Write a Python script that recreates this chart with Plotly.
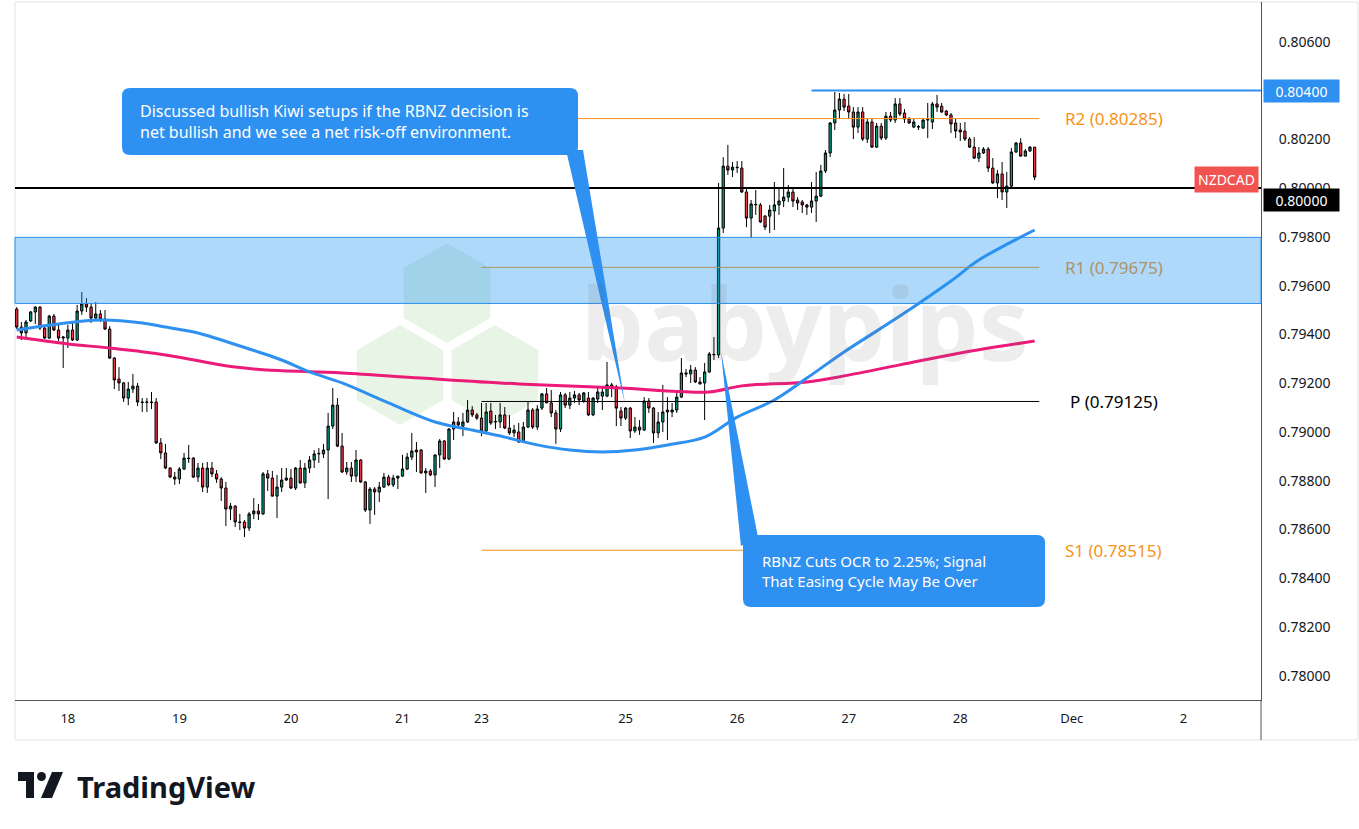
import plotly.graph_objects as go

# ── Data: NZDCAD hourly candles (Nov 17 - Nov 28) ─────────────────────────────

OPEN = [
    0.79504, 0.79430, 0.79406, 0.79455, 0.79492, 0.79512, 0.79426, 0.79385, 0.79475, 0.79418,
    0.79385, 0.79385, 0.79418, 0.79377, 0.79496, 0.79525, 0.79512, 0.79467, 0.79484, 0.79463,
    0.79422, 0.79303, 0.79217, 0.79201, 0.79139, 0.79176, 0.79188, 0.79123, 0.79121, 0.79123,
    0.79123, 0.78955, 0.78914, 0.78852, 0.78815, 0.78807, 0.78848, 0.78893, 0.78893, 0.78815,
    0.78852, 0.78774, 0.78852, 0.78828, 0.78807, 0.78770, 0.78684, 0.78696, 0.78631, 0.78631,
    0.78606, 0.78664, 0.78676, 0.78664, 0.78828, 0.78811, 0.78737, 0.78774, 0.78803, 0.78811,
    0.78770, 0.78852, 0.78791, 0.78852, 0.78885, 0.78910, 0.78910, 0.78926, 0.79024, 0.79110,
    0.78942, 0.78836, 0.78852, 0.78819, 0.78885, 0.78795, 0.78680, 0.78766, 0.78754, 0.78774,
    0.78815, 0.78783, 0.78811, 0.78819, 0.78848, 0.78897, 0.78926, 0.78926, 0.78840, 0.78840,
    0.78824, 0.78906, 0.78963, 0.78889, 0.79012, 0.79041, 0.79024, 0.79041, 0.79090, 0.79070,
    0.79057, 0.79004, 0.79086, 0.79041, 0.79041, 0.79070, 0.79016, 0.78996, 0.79000, 0.78959,
    0.79020, 0.79090, 0.79020, 0.79098, 0.79156, 0.79119, 0.79078, 0.79012, 0.79152, 0.79110,
    0.79139, 0.79152, 0.79127, 0.79139, 0.79070, 0.79135, 0.79147, 0.79147, 0.79193, 0.79184,
    0.79086, 0.79057, 0.79098, 0.79004, 0.79020, 0.79008, 0.79127, 0.79098, 0.78996, 0.79041,
    0.79090, 0.79082, 0.79090, 0.79143, 0.79242, 0.79238, 0.79254, 0.79205, 0.79201, 0.79246,
    0.79316, 0.79316, 0.79836, 0.80090, 0.80074, 0.80086, 0.80082, 0.79984, 0.79877, 0.79931,
    0.79931, 0.79885, 0.79885, 0.79906, 0.79931, 0.79947, 0.79963, 0.79984, 0.79951, 0.79943,
    0.79931, 0.79922, 0.79947, 0.79967, 0.80070, 0.80144, 0.80267, 0.80320, 0.80365, 0.80336,
    0.80312, 0.80250, 0.80312, 0.80201, 0.80271, 0.80168, 0.80254, 0.80205, 0.80295, 0.80279,
    0.80345, 0.80308, 0.80283, 0.80250, 0.80250, 0.80246, 0.80279, 0.80271, 0.80345, 0.80336,
    0.80316, 0.80300, 0.80267, 0.80238, 0.80234, 0.80201, 0.80168, 0.80123, 0.80144, 0.80160,
    0.80082, 0.80021, 0.80058, 0.79984, 0.80008, 0.80148, 0.80185, 0.80131, 0.80152, 0.80168,
]
HIGH = [
    0.79512, 0.79451, 0.79459, 0.79496, 0.79516, 0.79516, 0.79434, 0.79480, 0.79484, 0.79439,
    0.79393, 0.79439, 0.79451, 0.79521, 0.79574, 0.79549, 0.79529, 0.79533, 0.79500, 0.79500,
    0.79434, 0.79307, 0.79266, 0.79205, 0.79205, 0.79238, 0.79201, 0.79139, 0.79139, 0.79164,
    0.79139, 0.78975, 0.78951, 0.78856, 0.78836, 0.78856, 0.78914, 0.78947, 0.78897, 0.78873,
    0.78873, 0.78877, 0.78877, 0.78844, 0.78815, 0.78795, 0.78709, 0.78700, 0.78664, 0.78639,
    0.78672, 0.78729, 0.78705, 0.78836, 0.78844, 0.78840, 0.78824, 0.78852, 0.78852, 0.78848,
    0.78856, 0.78885, 0.78873, 0.78901, 0.78926, 0.78934, 0.78951, 0.79078, 0.79180, 0.79139,
    0.78996, 0.78877, 0.78877, 0.78926, 0.78889, 0.78799, 0.78774, 0.78774, 0.78795, 0.78832,
    0.78824, 0.78824, 0.78819, 0.78906, 0.78914, 0.78996, 0.78959, 0.78930, 0.78852, 0.78848,
    0.78906, 0.78971, 0.78967, 0.79016, 0.79082, 0.79061, 0.79078, 0.79131, 0.79106, 0.79078,
    0.79119, 0.79119, 0.79119, 0.79070, 0.79119, 0.79102, 0.79070, 0.79029, 0.79037, 0.79041,
    0.79123, 0.79098, 0.79110, 0.79160, 0.79180, 0.79172, 0.79090, 0.79164, 0.79160, 0.79164,
    0.79168, 0.79160, 0.79164, 0.79164, 0.79143, 0.79184, 0.79184, 0.79287, 0.79201, 0.79193,
    0.79102, 0.79102, 0.79102, 0.79061, 0.79049, 0.79143, 0.79139, 0.79102, 0.79082, 0.79193,
    0.79143, 0.79119, 0.79172, 0.79303, 0.79258, 0.79275, 0.79266, 0.79225, 0.79283, 0.79328,
    0.79389, 0.80021, 0.80127, 0.80177, 0.80107, 0.80111, 0.80111, 0.80000, 0.79951, 0.79992,
    0.79939, 0.79890, 0.79931, 0.80025, 0.80000, 0.80082, 0.80013, 0.80000, 0.79963, 0.79951,
    0.79935, 0.80025, 0.80066, 0.80095, 0.80156, 0.80271, 0.80394, 0.80390, 0.80386, 0.80386,
    0.80332, 0.80332, 0.80332, 0.80283, 0.80287, 0.80267, 0.80267, 0.80312, 0.80312, 0.80369,
    0.80369, 0.80324, 0.80291, 0.80283, 0.80259, 0.80287, 0.80349, 0.80353, 0.80382, 0.80349,
    0.80320, 0.80308, 0.80287, 0.80267, 0.80271, 0.80209, 0.80209, 0.80168, 0.80168, 0.80168,
    0.80123, 0.80074, 0.80107, 0.80066, 0.80164, 0.80189, 0.80205, 0.80160, 0.80172, 0.80168,
]
LOW = [
    0.79422, 0.79377, 0.79381, 0.79451, 0.79443, 0.79418, 0.79381, 0.79381, 0.79414, 0.79373,
    0.79262, 0.79344, 0.79373, 0.79373, 0.79480, 0.79492, 0.79447, 0.79463, 0.79451, 0.79418,
    0.79300, 0.79176, 0.79168, 0.79123, 0.79110, 0.79160, 0.79106, 0.79082, 0.79082, 0.79094,
    0.78951, 0.78889, 0.78848, 0.78811, 0.78783, 0.78787, 0.78844, 0.78873, 0.78811, 0.78795,
    0.78754, 0.78750, 0.78815, 0.78791, 0.78717, 0.78614, 0.78639, 0.78610, 0.78598, 0.78569,
    0.78594, 0.78643, 0.78639, 0.78660, 0.78758, 0.78735, 0.78647, 0.78754, 0.78799, 0.78766,
    0.78762, 0.78788, 0.78770, 0.78832, 0.78852, 0.78873, 0.78893, 0.78725, 0.79012, 0.78938,
    0.78832, 0.78824, 0.78795, 0.78795, 0.78791, 0.78672, 0.78623, 0.78660, 0.78713, 0.78770,
    0.78778, 0.78774, 0.78766, 0.78815, 0.78844, 0.78885, 0.78836, 0.78828, 0.78750, 0.78819,
    0.78774, 0.78852, 0.78885, 0.78885, 0.78967, 0.79012, 0.78983, 0.79037, 0.79061, 0.79049,
    0.78983, 0.79000, 0.79029, 0.79012, 0.79016, 0.79012, 0.78988, 0.78979, 0.78955, 0.78955,
    0.79016, 0.79012, 0.79008, 0.79090, 0.79119, 0.79061, 0.78951, 0.79000, 0.79098, 0.79094,
    0.79119, 0.79110, 0.79119, 0.79065, 0.79065, 0.79119, 0.79090, 0.79143, 0.79143, 0.79024,
    0.79024, 0.79049, 0.78975, 0.78996, 0.78988, 0.79004, 0.79078, 0.78955, 0.78975, 0.79000,
    0.78967, 0.79061, 0.79078, 0.79139, 0.79225, 0.79201, 0.79201, 0.79195, 0.79049, 0.79242,
    0.79295, 0.79303, 0.79816, 0.80054, 0.80045, 0.80062, 0.79980, 0.79840, 0.79795, 0.79890,
    0.79857, 0.79828, 0.79816, 0.79828, 0.79890, 0.79922, 0.79943, 0.79922, 0.79910, 0.79898,
    0.79890, 0.79898, 0.79861, 0.79963, 0.80062, 0.80127, 0.80238, 0.80283, 0.80316, 0.80283,
    0.80201, 0.80226, 0.80193, 0.80185, 0.80165, 0.80165, 0.80197, 0.80197, 0.80271, 0.80267,
    0.80295, 0.80267, 0.80263, 0.80246, 0.80238, 0.80242, 0.80205, 0.80242, 0.80312, 0.80308,
    0.80295, 0.80226, 0.80205, 0.80193, 0.80193, 0.80164, 0.80119, 0.80107, 0.80140, 0.80066,
    0.80017, 0.79959, 0.79951, 0.79918, 0.80004, 0.80144, 0.80131, 0.80131, 0.80148, 0.80033,
]
CLOSE = [
    0.79430, 0.79406, 0.79451, 0.79492, 0.79512, 0.79426, 0.79385, 0.79475, 0.79418, 0.79385,
    0.79389, 0.79418, 0.79377, 0.79496, 0.79525, 0.79512, 0.79467, 0.79484, 0.79463, 0.79422,
    0.79303, 0.79213, 0.79201, 0.79139, 0.79176, 0.79188, 0.79123, 0.79121, 0.79123, 0.79121,
    0.78955, 0.78914, 0.78852, 0.78815, 0.78807, 0.78848, 0.78893, 0.78891, 0.78815, 0.78852,
    0.78774, 0.78852, 0.78828, 0.78807, 0.78770, 0.78684, 0.78696, 0.78631, 0.78629, 0.78606,
    0.78664, 0.78676, 0.78664, 0.78828, 0.78811, 0.78737, 0.78774, 0.78803, 0.78811, 0.78770,
    0.78852, 0.78791, 0.78852, 0.78885, 0.78910, 0.78912, 0.78926, 0.79024, 0.79110, 0.78942,
    0.78836, 0.78852, 0.78819, 0.78885, 0.78795, 0.78680, 0.78766, 0.78754, 0.78774, 0.78815,
    0.78783, 0.78811, 0.78819, 0.78848, 0.78897, 0.78922, 0.78918, 0.78832, 0.78832, 0.78824,
    0.78906, 0.78963, 0.78889, 0.79012, 0.79041, 0.79029, 0.79041, 0.79090, 0.79070, 0.79057,
    0.79004, 0.79082, 0.79037, 0.79043, 0.79070, 0.79016, 0.78996, 0.79008, 0.78959, 0.79020,
    0.79090, 0.79020, 0.79094, 0.79156, 0.79119, 0.79078, 0.79012, 0.79152, 0.79110, 0.79139,
    0.79152, 0.79131, 0.79160, 0.79070, 0.79139, 0.79164, 0.79164, 0.79193, 0.79184, 0.79098,
    0.79057, 0.79098, 0.79004, 0.79020, 0.79008, 0.79127, 0.79098, 0.78996, 0.79041, 0.79082,
    0.79082, 0.79090, 0.79143, 0.79242, 0.79238, 0.79254, 0.79205, 0.79197, 0.79246, 0.79320,
    0.79318, 0.79836, 0.80090, 0.80074, 0.80086, 0.80084, 0.79984, 0.79877, 0.79935, 0.79933,
    0.79861, 0.79840, 0.79910, 0.79931, 0.79947, 0.79963, 0.79984, 0.79947, 0.79939, 0.79931,
    0.79922, 0.79947, 0.79967, 0.80070, 0.80144, 0.80267, 0.80320, 0.80365, 0.80332, 0.80312,
    0.80250, 0.80312, 0.80201, 0.80271, 0.80168, 0.80254, 0.80205, 0.80295, 0.80279, 0.80345,
    0.80304, 0.80283, 0.80267, 0.80271, 0.80252, 0.80279, 0.80281, 0.80345, 0.80332, 0.80312,
    0.80300, 0.80263, 0.80234, 0.80230, 0.80201, 0.80168, 0.80123, 0.80144, 0.80160, 0.80082,
    0.80021, 0.80058, 0.79984, 0.80008, 0.80148, 0.80185, 0.80131, 0.80152, 0.80168, 0.80045,
]

# moving averages, sampled at bar indices
SMA_FAST_IDX = [0, 9, 18, 27, 32, 39, 46, 52, 57, 63, 70, 80, 90, 98, 105, 112, 119, 126,
                133, 140, 148, 155, 163, 170, 178, 190, 201, 207, 219]
SMA_FAST = [0.79418, 0.79443, 0.79459, 0.79447, 0.79430, 0.79406, 0.79365, 0.79328, 0.79295,
            0.79246, 0.79201, 0.79119, 0.79041, 0.79008, 0.78979, 0.78947, 0.78926, 0.78918,
            0.78926, 0.78947, 0.78979, 0.79061, 0.79131, 0.79221, 0.79328, 0.79475, 0.79619,
            0.79705, 0.79828]
SMA_SLOW_IDX = [0, 11, 20, 32, 47, 54, 70, 87, 108, 130, 140, 149, 156, 170, 178, 190, 203, 219]
SMA_SLOW = [0.79389, 0.79361, 0.79344, 0.79316, 0.79266, 0.79254, 0.79242, 0.79221, 0.79197,
            0.79180, 0.79168, 0.79164, 0.79189, 0.79205, 0.79230, 0.79275, 0.79324, 0.79373]

TICK_POS = [11, 35, 59, 83, 100, 131, 155, 179, 203, 227, 251]
TICK_TEXT = ["18", "19", "20", "21", "23", "25", "26", "27", "28", "Dec", "2"]
PRICE_TICKS = [0.780, 0.782, 0.784, 0.786, 0.788, 0.790, 0.792, 0.794, 0.796, 0.798,
               0.800, 0.802, 0.806]

PIVOT_NAMES = ["R2", "R1", "P", "S1"]
PIVOT_LEVELS = [0.80285, 0.79675, 0.79125, 0.78515]
PIVOT_START, PIVOT_END = 100, 220

ZONE = (0.79527, 0.79798)
RESIST_LINE = 0.80400
ROUND_LINE = 0.80000

NOTE_TOP = ["Discussed bullish Kiwi setups if the RBNZ decision is",
            "net bullish and we see a net risk-off environment."]
NOTE_BOTTOM = ["RBNZ Cuts OCR to 2.25%; Signal", "That Easing Cycle May Be Over"]

# ── Layout helpers (page pixels -> paper coords) ──────────────────────────────

W, H = 1359, 829
L, R, T, B = 15, 1261, 2, 700
BLUE = "#2e90f0"
PINK = "#ec1a78"
ORANGE = "#f7931a"
FONT = "Noto Sans"


def fx(p):
    return (p - L) / (R - L)


def fy(p):
    return (B - p) / (B - T)


def rounded_rect(x0, y0, x1, y1, r=8):
    rx, ry = r / (R - L), r / (B - T)
    a, b, c, d = fx(x0), fx(x1), fy(y1), fy(y0)  # left, right, bottom, top
    return (f"M{a+rx},{d} L{b-rx},{d} Q{b},{d} {b},{d-ry} L{b},{c+ry} Q{b},{c} {b-rx},{c} "
            f"L{a+rx},{c} Q{a},{c} {a},{c+ry} L{a},{d-ry} Q{a},{d} {a+rx},{d} Z")


def polygon(points):
    pts = [f"{fx(x)},{fy(y)}" for x, y in points]
    return "M" + " L".join(pts) + " Z"


def hexagon(cx, cy, r):
    pts = [(cx, cy - r), (cx + 0.866 * r, cy - r / 2), (cx + 0.866 * r, cy + r / 2),
           (cx, cy + r), (cx - 0.866 * r, cy + r / 2), (cx - 0.866 * r, cy - r / 2)]
    return polygon(pts)


def paper_text(x, y, text, size, color, xanchor="left", **kw):
    return dict(xref="paper", yref="paper", x=fx(x), y=fy(y), xanchor=xanchor, yanchor="middle",
                text=text, showarrow=False, font=dict(family=FONT, size=size, color=color), **kw)


idx = list(range(len(CLOSE)))

fig = go.Figure()

fig.add_trace(go.Scatter(
    x=SMA_SLOW_IDX, y=SMA_SLOW, mode="lines", line=dict(color=PINK, width=3, shape="spline"),
    hoverinfo="skip",
))
fig.add_trace(go.Scatter(
    x=SMA_FAST_IDX, y=SMA_FAST, mode="lines", line=dict(color=BLUE, width=3, shape="spline"),
    hoverinfo="skip",
))
fig.add_trace(go.Candlestick(
    x=idx, open=OPEN, high=HIGH, low=LOW, close=CLOSE,
    increasing=dict(line=dict(color="#000000", width=1), fillcolor="#089981"),
    decreasing=dict(line=dict(color="#000000", width=1), fillcolor="#f23645"),
    whiskerwidth=0, hoverinfo="skip",
))

shapes = []

# watermark hexagons
for cx, cy in [(447, 293), (400, 375), (495, 375)]:
    shapes.append(dict(type="path", xref="paper", yref="paper", path=hexagon(cx, cy, 50),
                       fillcolor="rgba(100,180,80,0.15)", line=dict(width=0), layer="below"))

# pivot lines
for name, lvl in zip(PIVOT_NAMES, PIVOT_LEVELS):
    col = "#000000" if name == "P" else ORANGE
    shapes.append(dict(type="line", x0=PIVOT_START, x1=PIVOT_END, y0=lvl, y1=lvl,
                       line=dict(color=col, width=1)))

# horizontal levels
shapes.append(dict(type="line", xref="paper", x0=0, x1=1, y0=ROUND_LINE, y1=ROUND_LINE,
                   line=dict(color="#000000", width=2)))
shapes.append(dict(type="line", x0=171, x1=268, y0=RESIST_LINE, y1=RESIST_LINE,
                   line=dict(color=BLUE, width=2)))

# resistance zone
shapes.append(dict(type="rect", xref="paper", x0=0, x1=1, y0=ZONE[0], y1=ZONE[1],
                   fillcolor="rgba(33,150,243,0.36)", line=dict(color=BLUE, width=1),
                   layer="above"))

# callouts
shapes.append(dict(type="path", xref="paper", yref="paper",
                   path=polygon([(566, 150), (583, 150), (625, 404)]),
                   fillcolor=BLUE, line=dict(width=0)))
shapes.append(dict(type="path", xref="paper", yref="paper", path=rounded_rect(122, 88, 578, 155),
                   fillcolor=BLUE, line=dict(width=0)))
shapes.append(dict(type="path", xref="paper", yref="paper",
                   path=polygon([(741, 546), (758, 537), (721, 352)]),
                   fillcolor=BLUE, line=dict(width=0)))
shapes.append(dict(type="path", xref="paper", yref="paper", path=rounded_rect(743, 535, 1045, 607),
                   fillcolor=BLUE, line=dict(width=0)))

# frame and axis extension
shapes.append(dict(type="rect", xref="paper", yref="paper", x0=0, x1=fx(1358), y0=fy(740), y1=1,
                   line=dict(color="#e0e3eb", width=1), layer="below"))
shapes.append(dict(type="line", xref="paper", yref="paper", x0=1, x1=1, y0=fy(740), y1=0,
                   line=dict(color="#50535e", width=1)))

# TradingView logo mark
shapes.append(dict(type="path", xref="paper", yref="paper",
                   path=polygon([(18, 772), (34, 772), (34, 798), (26, 798), (26, 781), (18, 781)]),
                   fillcolor="#131722", line=dict(width=0)))
shapes.append(dict(type="circle", xref="paper", yref="paper", x0=fx(37), x1=fx(46),
                   y0=fy(781), y1=fy(772), fillcolor="#131722", line=dict(width=0)))
shapes.append(dict(type="path", xref="paper", yref="paper",
                   path=polygon([(52, 772), (63, 772), (52, 798), (41, 798)]),
                   fillcolor="#131722", line=dict(width=0)))

annotations = [
    paper_text(805, 322, "<b>babypips</b>", 100, "rgba(110,110,110,0.12)", xanchor="center"),
    paper_text(138, 121, "<br>".join(NOTE_TOP), 16, "white", align="left"),
    paper_text(760, 561, NOTE_BOTTOM[0], 15, "white"),
    paper_text(760, 581, NOTE_BOTTOM[1], 15, "white"),
    paper_text(1263, 91, f"{RESIST_LINE:.5f}", 14, "white", bgcolor=BLUE, borderpad=3,
               width=69, height=16),
    paper_text(1263, 200, f"{ROUND_LINE:.5f}", 14, "white", bgcolor="#000000", borderpad=3,
               width=69, height=16),
    paper_text(1259, 179, "NZDCAD", 14, "white", xanchor="right", bgcolor="#f05350",
               borderpad=3),
    paper_text(75, 786, "<b>TradingView</b>", 29, "#131722"),
]
label_colors = {"R2": ORANGE, "R1": "#ad9466", "P": "#000000", "S1": ORANGE}
for name, lvl in zip(PIVOT_NAMES, PIVOT_LEVELS):
    annotations.append(dict(x=236, y=lvl, yanchor="middle", text=f"{name} ({lvl:.5f})",
                            showarrow=False,
                            font=dict(family=FONT, size=17, color=label_colors[name])))

fig.update_layout(
    width=W, height=H,
    margin=dict(l=L, r=W - R, t=T, b=H - B),
    paper_bgcolor="white", plot_bgcolor="white",
    showlegend=False,
    shapes=shapes, annotations=annotations,
    xaxis=dict(
        range=[-0.37, 267.7], rangeslider=dict(visible=False),
        tickvals=TICK_POS, ticktext=TICK_TEXT, showgrid=False, zeroline=False,
        showline=True, linecolor="#50535e", linewidth=1, ticks="",
        ticklabelstandoff=6, tickfont=dict(family=FONT, size=13, color="#131722"),
    ),
    yaxis=dict(
        side="right", range=[0.77901, 0.80763],
        tickvals=PRICE_TICKS, tickformat=".5f",
        showgrid=False, zeroline=False, showline=True, linecolor="#50535e", linewidth=1,
        ticks="", ticklabelstandoff=14, tickfont=dict(family=FONT, size=14, color="#131722"),
    ),
)

fig.write_html("out.html", config={"displayModeBar": False},
               post_script="document.body.style.margin='0';")
